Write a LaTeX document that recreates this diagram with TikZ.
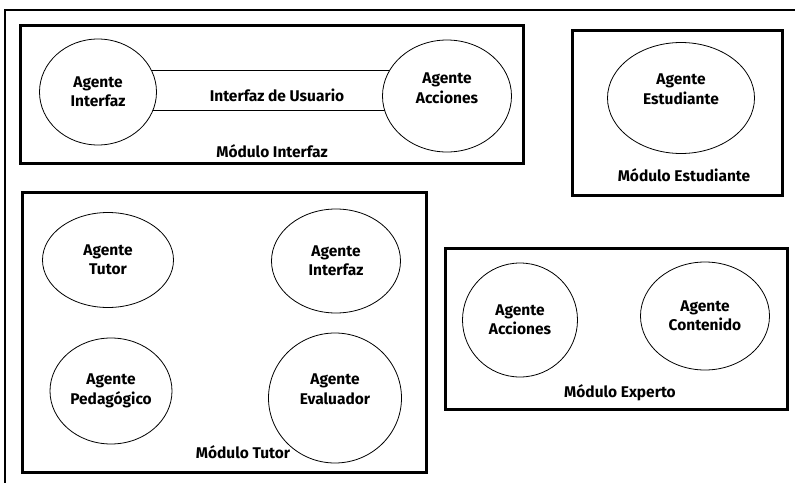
\documentclass[tikz,border=0pt]{standalone}
\usepackage{fontspec}
\setmainfont{Fira Sans}
\usetikzlibrary{shapes.geometric,backgrounds}

\begin{document}
\begin{tikzpicture}[x=1pt,y=-1pt,
    modulo/.style={draw, line width=3pt},
    agente/.style={draw, ellipse, fill=white, line width=0.8pt, inner sep=0pt, align=center,
        font=\bfseries\fontsize{15.5}{19.5}\selectfont},
    rotulo/.style={font=\bfseries\fontsize{15.5}{18}\selectfont}]
    \useasboundingbox (0,0) rectangle (795,482);
    % marco exterior
    \draw[line width=2pt] (5,495) |- (800,10);

    % Modulo Interfaz
    \draw[modulo] (20,25) rectangle (523,163);
    \node[agente, minimum width=117pt, minimum height=106pt] (ainterfaz) at (98,92) {Agente\\Interfaz};
    \node[agente, minimum width=129pt, minimum height=112pt, text depth=16pt] (aacciones) at (447,96) {Agente\\Acciones};
    \path (ainterfaz.center) ++(0,-22) coordinate (barriba)
          (ainterfaz.center) ++(0,18) coordinate (babajo);
    \begin{scope}[on background layer]
        \draw[line width=0.8pt] (barriba) -- (barriba -| aacciones.center);
        \draw[line width=0.8pt] (babajo) -- (babajo -| aacciones.center);
    \end{scope}
    \node[rotulo] (usuario) at (277,95) {Interfaz de Usuario};
    \node[rotulo] (minterfaz) at (272,151) {Módulo Interfaz};

    % Modulo Estudiante
    \draw[modulo] (572,30) rectangle (782,195);
    \node[agente, minimum width=147pt, minimum height=111pt, text depth=18pt] (aestudiante) at (681,98) {Agente\\Estudiante};
    \node[rotulo] (mestudiante) at (684,175) {Módulo Estudiante};

    % Modulo Tutor
    \draw[modulo] (22,192) rectangle (426,472);
    \node[agente, minimum width=131pt, minimum height=95pt] (atutor) at (108,260) {Agente\\Tutor};
    \node[agente, minimum width=129pt, minimum height=104pt] (ainterfazt) at (336,261) {Agente\\Interfaz};
    \node[agente, minimum width=122pt, minimum height=106pt] (apedagogico) at (111,391) {Agente\\Pedagógico};
    \node[agente, minimum width=133pt, minimum height=130pt, text depth=18pt] (aevaluador) at (335,398) {Agente\\Evaluador};
    \node[rotulo] (mtutor) at (243,452) {Módulo Tutor};

    % Modulo Experto
    \draw[modulo] (445,248) rectangle (787,409);
    \node[agente, minimum width=115pt, minimum height=114pt] (aaccionese) at (520,320) {Agente\\Acciones};
    \node[agente, minimum width=129pt, minimum height=108pt] (acontenido) at (705,316) {Agente\\Contenido};
    \node[rotulo] (mexperto) at (620,393) {Módulo Experto};
\end{tikzpicture}
\end{document}
